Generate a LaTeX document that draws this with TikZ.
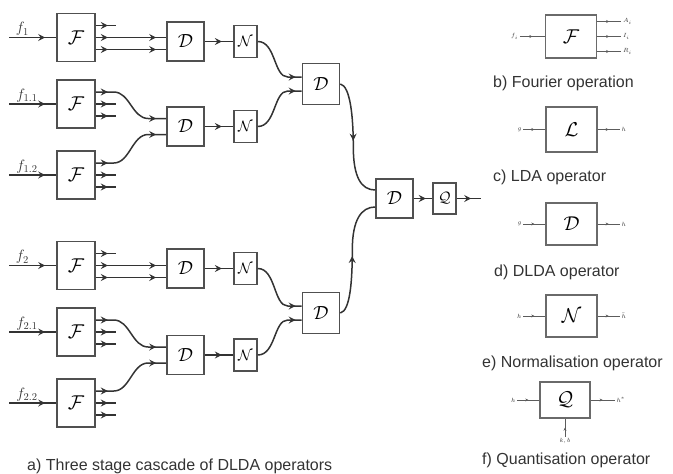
\RequirePackage{fix-cm}
\documentclass[tikz,border=0pt]{standalone}
\usepackage{fontspec}
\newfontfamily\capfont{Liberation Sans}
\usepackage{xcolor}
\usepackage{tikz}
\usetikzlibrary{arrows.meta, decorations.markings}

\definecolor{ink}{HTML}{333333}
\definecolor{frame}{HTML}{505050}

\begin{document}
\begin{tikzpicture}[
  x=1pt, y=-1pt,
  box/.style={rectangle, draw=frame, line width=1.6pt, fill=white, inner sep=0pt,
              minimum width=38pt, minimum height=48pt, font=\fontsize{20}{24}\selectfont},
  dbox/.style={box, minimum width=37pt, minimum height=39pt, font=\fontsize{19}{22}\selectfont},
  nbox/.style={box, minimum width=23pt, minimum height=32pt, font=\fontsize{15}{18}\selectfont},
  opbox/.style={rectangle, draw=frame!85, line width=1.3pt, inner sep=0pt,
                minimum width=51pt, minimum height=43pt, font=\fontsize{20}{24}\selectfont},
  wire/.style={draw=ink, line width=1.5pt},
  fine/.style={draw=ink!80, line width=0.8pt},
  ahead/.style={postaction={decorate, decoration={markings, mark=at position #1 with
                {\arrow{Stealth[length=7pt,width=7pt,inset=2.5pt]}}}}},
  shead/.style={postaction={decorate, decoration={markings, mark=at position #1 with
                {\arrow{Stealth[length=3pt,width=3pt]}}}}},
  sig/.style={font=\fontsize{15}{18}\selectfont, text=ink, inner sep=1pt},
  lbl/.style={font=\fontsize{6}{7}\selectfont, text=ink, inner sep=1.5pt},
  caption/.style={font=\capfont\fontsize{16}{19}\selectfont, text=ink, anchor=west, inner sep=0pt},
]
  \useasboundingbox (0,0) rectangle (673,474);

  % a) cascade, upper half
  \node[box] (f1) at (76,37.5) {$\mathcal{F}$};
  \node[box] (f11) at (76,104) {$\mathcal{F}$};
  \node[box] (f12) at (76,175) {$\mathcal{F}$};
  \node[dbox] (d1) at (185.5,41.5) {$\mathcal{D}$};
  \node[dbox] (d11) at (185.5,126.5) {$\mathcal{D}$};
  \node[nbox] (n1) at (245.5,41.5) {$\mathcal{N}$};
  \node[nbox] (n11) at (245.5,126.5) {$\mathcal{N}$};

  % lower half
  \node[box] (f2) at (76,265.5) {$\mathcal{F}$};
  \node[box] (f21) at (76,332) {$\mathcal{F}$};
  \node[box] (f22) at (76,403) {$\mathcal{F}$};
  \node[dbox] (d2) at (185.5,268.5) {$\mathcal{D}$};
  \node[dbox] (d21) at (185.5,355) {$\mathcal{D}$};
  \node[nbox] (n2) at (245.5,268.5) {$\mathcal{N}$};
  \node[nbox] (n21) at (245.5,355) {$\mathcal{N}$};

  % second and third stage
  \node[dbox, minimum height=41pt] (dd1) at (321,84) {$\mathcal{D}$};
  \node[dbox, minimum height=41pt] (dd2) at (321,313) {$\mathcal{D}$};
  \node[dbox] (ddd) at (394.5,198.5) {$\mathcal{D}$};
  \node[nbox, minimum height=31pt] (q) at (444.5,198.5) {$\mathcal{Q}$};

  % inputs
  \draw[wire, ahead=-11pt] ([xshift=-47pt]f1.west) -- node[sig, pos=0.28, above] (t1) {$f_1$} (f1.west);
  \draw[wire, ahead=-11pt] ([xshift=-47pt]f11.west) -- node[sig, pos=0.38, above] (t11) {$f_{1.1}$} (f11.west);
  \draw[wire, ahead=-11pt] ([xshift=-47pt]f12.west) -- node[sig, pos=0.38, above] (t12) {$f_{1.2}$} (f12.west);
  \draw[wire, ahead=-11pt] ([xshift=-47pt]f2.west) -- node[sig, pos=0.28, above] (t2) {$f_2$} (f2.west);
  \draw[wire, ahead=-11pt] ([xshift=-47pt]f21.west) -- node[sig, pos=0.38, above] (t21) {$f_{2.1}$} (f21.west);
  \draw[wire, ahead=-11pt] ([xshift=-47pt]f22.west) -- node[sig, pos=0.38, above] (t22) {$f_{2.2}$} (f22.west);

  % Fourier outputs
  \coordinate (f1b) at ([yshift=-12pt]f1.east);
  \coordinate (f2b) at ([yshift=-12pt]f2.east);
  \draw[wire, ahead=12pt] ([yshift=12pt]f1.east) -- +(20,0);
  \draw[wire, ahead=12pt, ahead=-10pt] (f1.east) -- (f1.east -| d1.west);
  \draw[wire, ahead=12pt, ahead=-10pt] (f1b) -- (f1b -| d1.west);
  \draw[wire, ahead=12pt] ([yshift=12pt]f2.east) -- +(20,0);
  \draw[wire, ahead=12pt, ahead=-10pt] (f2.east) -- (f2.east -| d2.west);
  \draw[wire, ahead=12pt, ahead=-10pt] (f2b) -- (f2b -| d2.west);

  \draw[wire, ahead=12pt, ahead=-10pt] ([yshift=12pt]f11.east) -- ++(18,0)
    .. controls +(16,0) and +(-16,0) .. ([xshift=-18pt, yshift=8pt]d11.west) -- ([yshift=8pt]d11.west);
  \draw[wire, ahead=12pt] (f11.east) -- +(20,0);
  \draw[wire, ahead=12pt] ([yshift=-12pt]f11.east) -- +(20,0);
  \draw[wire, ahead=12pt, ahead=-10pt] ([yshift=12pt]f12.east) -- ++(18,0)
    .. controls +(16,0) and +(-16,0) .. ([xshift=-18pt, yshift=-8pt]d11.west) -- ([yshift=-8pt]d11.west);
  \draw[wire, ahead=12pt] (f12.east) -- +(20,0);
  \draw[wire, ahead=12pt] ([yshift=-12pt]f12.east) -- +(20,0);

  \draw[wire, ahead=12pt, ahead=-10pt] ([yshift=12pt]f21.east) -- ++(18,0)
    .. controls +(16,0) and +(-16,0) .. ([xshift=-18pt, yshift=8pt]d21.west) -- ([yshift=8pt]d21.west);
  \draw[wire, ahead=12pt] (f21.east) -- +(20,0);
  \draw[wire, ahead=12pt] ([yshift=-12pt]f21.east) -- +(20,0);
  \draw[wire, ahead=12pt, ahead=-10pt] ([yshift=12pt]f22.east) -- ++(18,0)
    .. controls +(16,0) and +(-16,0) .. ([xshift=-18pt, yshift=-8pt]d21.west) -- ([yshift=-8pt]d21.west);
  \draw[wire, ahead=12pt] (f22.east) -- +(20,0);
  \draw[wire, ahead=12pt] ([yshift=-12pt]f22.east) -- +(20,0);

  % DLDA -> normalisation
  \draw[wire, ahead=0.6] (d1) -- (n1);
  \draw[wire, ahead=0.6] (d11) -- (n11);
  \draw[wire, ahead=0.6] (d2) -- (n2);
  \draw[wire, ahead=0.6] (d21) -- (n21);

  % normalisation -> second stage
  \draw[wire, ahead=-6pt] (n1.east) .. controls +(18,0) and +(-14,0)
    .. ([xshift=-14pt, yshift=7pt]dd1.west) -- ([yshift=7pt]dd1.west);
  \draw[wire, ahead=-6pt] (n11.east) .. controls +(18,0) and +(-14,0)
    .. ([xshift=-14pt, yshift=-7pt]dd1.west) -- ([yshift=-7pt]dd1.west);
  \draw[wire, ahead=-6pt] (n2.east) .. controls +(18,0) and +(-14,0)
    .. ([xshift=-14pt, yshift=7pt]dd2.west) -- ([yshift=7pt]dd2.west);
  \draw[wire, ahead=-6pt] (n21.east) .. controls +(18,0) and +(-14,0)
    .. ([xshift=-14pt, yshift=-7pt]dd2.west) -- ([yshift=-7pt]dd2.west);

  % second stage -> third stage -> quantisation
  \draw[wire, ahead=0.5] (dd1.east) .. controls +(10,2) and +(0,-30) .. ++(13,63)
    .. controls +(0,30) and +(-14,0) .. ([yshift=8.5pt]ddd.west);
  \draw[wire, ahead=0.5] (dd2.east) .. controls +(10,-2) and +(0,30) .. ++(12,-63)
    .. controls +(0,-30) and +(-14,0) .. ([yshift=-8.5pt]ddd.west);
  \draw[wire, ahead=0.65] (ddd) -- (q);
  \draw[wire, ahead=0.6] (q.east) -- ++(24,0);

  \node[caption] (capa) at (27,466) {a) Three stage cascade of DLDA operators};

  % b)-f) single operators
  \node[opbox] (lf) at (571,36.5) {$\mathcal{F}$};
  \draw[fine, shead=0.5] ([xshift=-25pt]lf.west) node[lbl, left] (lfi) {$f_i$} -- (lf.west);
  \draw[fine, shead=0.5] ([yshift=15pt]lf.east) -- +(24,0) node[lbl, right] (lfa) {$A_i$};
  \draw[fine, shead=0.5] (lf.east) -- +(24,0) node[lbl, right] (lfb) {$I_i$};
  \draw[fine, shead=0.5] ([yshift=-15pt]lf.east) -- +(24,0) node[lbl, right] (lfc) {$R_i$};
  \node[caption] (capb) at (493,83) {b) Fourier operation};

  \node[opbox, minimum height=45pt] (ll) at (571.5,129.5) {$\mathcal{L}$};
  \draw[fine, shead=0.5] ([xshift=-22pt]ll.west) node[lbl, left] (llg) {$g$} -- (ll.west);
  \draw[fine, shead=0.5] (ll.east) -- +(22,0) node[lbl, right] (llh) {$h$};
  \node[caption] (capc) at (493,177) {c) LDA operator};

  \node[opbox, minimum height=42pt] (ld) at (571.5,224) {$\mathcal{D}$};
  \draw[fine, shead=0.5] ([xshift=-22pt]ld.west) node[lbl, left] (ldg) {$g$} -- (ld.west);
  \draw[fine, shead=0.5] (ld.east) -- +(22,0) node[lbl, right] (ldh) {$h$};
  \node[caption] (capd) at (494,272) {d) DLDA operator};

  \node[opbox, minimum height=42pt] (ln) at (571.5,316) {$\mathcal{N}$};
  \draw[fine, shead=0.5] ([xshift=-22pt]ln.west) node[lbl, left] (lnh) {$h$} -- (ln.west);
  \draw[fine, shead=0.5] (ln.east) -- +(22,0) node[lbl, right] (lnb) {$\bar{h}$};
  \node[caption] (cape) at (482,363) {e) Normalisation operator};

  \node[opbox, minimum width=50pt, minimum height=36pt] (lq) at (565,400) {$\mathcal{Q}$};
  \draw[fine, shead=0.5] ([xshift=-22pt]lq.west) node[lbl, left] (lqh) {$h$} -- (lq.west);
  \draw[fine, shead=0.5] (lq.east) -- +(24,0) node[lbl, right] (lqs) {$h^{*}$};
  \draw[fine, shead=0.5] ([yshift=-18pt]lq.south) node[lbl, below] (lqk) {$k,b$} -- (lq.south);
  \node[caption] (capf) at (482,460) {f) Quantisation operator};
\end{tikzpicture}
\end{document}
